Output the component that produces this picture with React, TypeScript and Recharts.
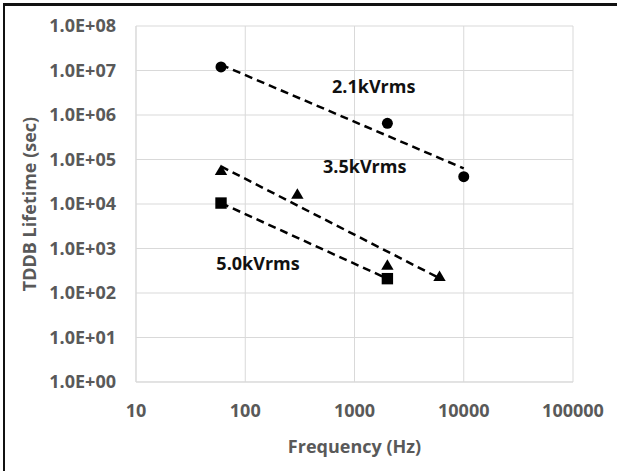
import React from 'react';
import {
  ScatterChart,
  Scatter,
  XAxis,
  YAxis,
  CartesianGrid,
  ReferenceLine,
  ReferenceDot,
  Label,
} from 'recharts';

// measured points (frequency Hz, TDDB lifetime sec)
const freq21 = [60, 2000, 10000];
const life21 = [1.2e7, 6.5e5, 4.1e4];

const freq35 = [60, 300, 2000, 6000];
const life35 = [5.8e4, 1.7e4, 430, 240];

const freq50 = [60, 2000];
const life50 = [1.05e4, 210];

// dashed power-law trend lines, end points
const trend21F = [60, 10000];
const trend21T = [1.35e7, 6.3e4];
const trend35F = [60, 6000];
const trend35T = [7.0e4, 215];
const trend50F = [60, 2000];
const trend50T = [1.05e4, 210];

// series labels placed in data coordinates
const labelText = ['2.1kVrms', '3.5kVrms', '5.0kVrms'];
const labelF = [1500, 1240, 131];
const labelT = [4.3e6, 7.1e4, 460];

const xTicks = [10, 100, 1000, 10000, 100000];
const xTickLabels = ['10', '100', '1000', '10000', '100000'];
const yTicks = [1, 10, 100, 1e3, 1e4, 1e5, 1e6, 1e7, 1e8];
const yTickLabels = [
  '1.0E+00', '1.0E+01', '1.0E+02', '1.0E+03', '1.0E+04',
  '1.0E+05', '1.0E+06', '1.0E+07', '1.0E+08',
];

const zip = (fs: number[], ts: number[]) => fs.map((f, i) => ({ f, t: ts[i] }));

const FONT = '"Open Sans", sans-serif';
const GREY = '#595959';
const GRID = '#d9d9d9';

const tickStyle = { fill: GREY, fontSize: 18, fontWeight: 700, fontFamily: FONT };

const Dot = (p: any) => <circle cx={p.cx} cy={p.cy} r={5.5} fill="#000" />;
const Tri = (p: any) => (
  <path
    d={`M${p.cx},${p.cy - 5.5} L${p.cx + 6.2},${p.cy + 5} L${p.cx - 6.2},${p.cy + 5} Z`}
    fill="#000"
  />
);
const Sq = (p: any) => <rect x={p.cx - 5.7} y={p.cy - 5.7} width={11.4} height={11.4} fill="#000" />;

const dash = { stroke: '#000', strokeWidth: 2.5, strokeDasharray: '8 5' };

export default function App() {
  return (
    <div
      style={{
        position: 'fixed',
        left: 0,
        top: 0,
        width: 617,
        height: 471,
        overflow: 'hidden',
        background: '#fff',
      }}
    >
      <div
        style={{
          position: 'absolute',
          left: 3,
          top: 3,
          width: 700,
          height: 600,
          borderTop: '3px solid #111',
          borderLeft: '2px solid #111',
        }}
      />
      <div style={{ position: 'absolute', left: 0, top: 0 }}>
        <ScatterChart width={617} height={471} margin={{ top: 26, right: 44, bottom: 0, left: 0 }}>
          <CartesianGrid stroke={GRID} strokeWidth={1} />
          <XAxis
            dataKey="f"
            type="number"
            scale="log"
            domain={[10, 100000]}
            ticks={xTicks}
            interval={0}
            allowDataOverflow
            height={89}
            tickLine={false}
            tickSize={0}
            tickMargin={22}
            axisLine={{ stroke: GRID }}
            tick={tickStyle}
            tickFormatter={(v: number) => xTickLabels[xTicks.indexOf(v)] ?? String(v)}
          >
            <Label
              value="Frequency (Hz)"
              position="insideBottom"
              offset={18}
              fill={GREY}
              fontSize={18}
              fontWeight={700}
              fontFamily={FONT}
            />
          </XAxis>
          <YAxis
            dataKey="t"
            type="number"
            scale="log"
            domain={[1, 1e8]}
            ticks={yTicks}
            interval={0}
            allowDataOverflow
            width={136}
            tickLine={false}
            tickSize={0}
            tickMargin={20}
            axisLine={{ stroke: GRID }}
            tick={tickStyle}
            tickFormatter={(v: number) => yTickLabels[yTicks.indexOf(v)] ?? String(v)}
          >
            <Label
              value="TDDB Lifetime (sec)"
              angle={-90}
              position="insideLeft"
              offset={30}
              fill={GREY}
              fontSize={18}
              fontWeight={700}
              fontFamily={FONT}
              style={{ textAnchor: 'middle' }}
            />
          </YAxis>

          <ReferenceLine segment={zip(trend21F, trend21T).map((d) => ({ x: d.f, y: d.t }))} {...dash} />
          <ReferenceLine segment={zip(trend35F, trend35T).map((d) => ({ x: d.f, y: d.t }))} {...dash} />
          <ReferenceLine segment={zip(trend50F, trend50T).map((d) => ({ x: d.f, y: d.t }))} {...dash} />

          <Scatter data={zip(freq21, life21)} shape={Dot} isAnimationActive={false} />
          <Scatter data={zip(freq35, life35)} shape={Tri} isAnimationActive={false} />
          <Scatter data={zip(freq50, life50)} shape={Sq} isAnimationActive={false} />

          {labelText.map((txt, i) => (
            <ReferenceDot
              key={txt}
              x={labelF[i]}
              y={labelT[i]}
              r={0}
              fill="none"
              stroke="none"
              label={{
                value: txt,
                position: 'center',
                fill: '#111',
                fontSize: 18,
                fontWeight: 700,
                fontFamily: FONT,
              }}
            />
          ))}
        </ScatterChart>
      </div>
    </div>
  );
}
